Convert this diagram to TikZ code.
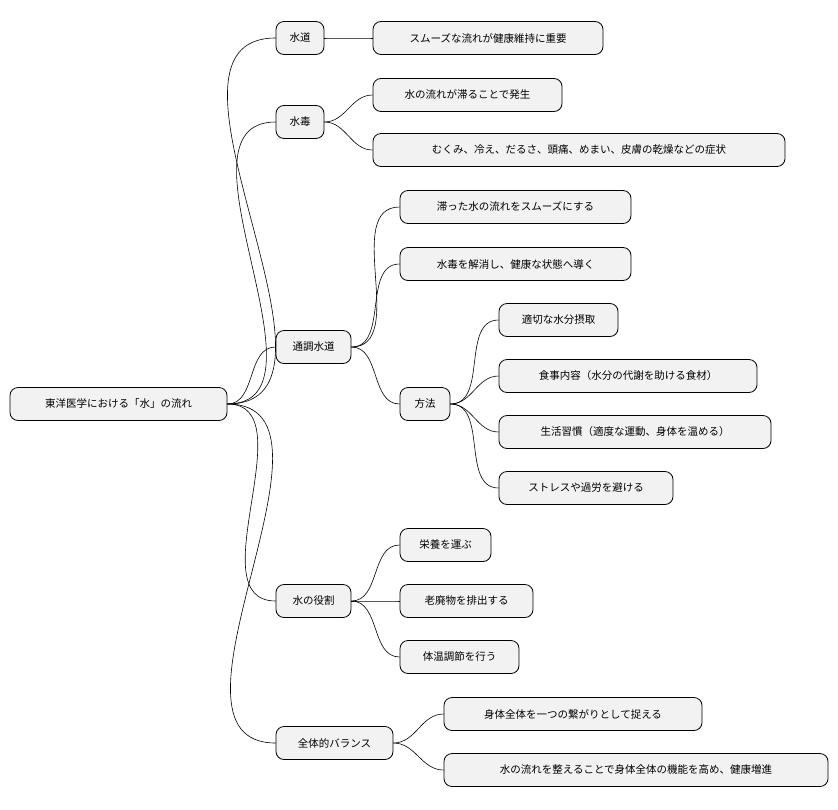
\documentclass[tikz,border=0pt]{standalone}
\usepackage{fontspec}
\newfontfamily\cjk{Noto Sans CJK JP}
\begin{document}
\begin{tikzpicture}[x=1pt,y=-1pt,
  box/.style={draw=black, line width=0.8pt, fill=black!5, rounded corners=8pt, minimum height=33pt, inner sep=0pt, font=\cjk\fontsize{10.5pt}{12pt}\selectfont},
  link/.style={draw=black, line width=0.6pt}]
\useasboundingbox (0,0) rectangle (838,809);
\newcommand\bx[5]{\node[box, minimum width=#4-#3] (#1) at ({(#3+#4)/2},#5) {#2};}
\bx{root}{東洋医学における「水」の流れ}{10}{227}{404}
\bx{a}{水道}{276}{324}{38}
\bx{a1}{スムーズな流れが健康維持に重要}{373}{603}{38}
\bx{b}{水毒}{276}{324}{122}
\bx{b1}{水の流れが滞ることで発生}{373}{562}{95}
\bx{b2}{むくみ、冷え、だるさ、頭痛、めまい、皮膚の乾燥などの症状}{373}{785}{150}
\bx{c}{通調水道}{276}{351}{347}
\bx{c1}{滞った水の流れをスムーズにする}{400}{631}{207}
\bx{c2}{水毒を解消し、健康な状態へ導く}{400}{631}{264}
\bx{c3}{方法}{400}{450}{404}
\bx{d1}{適切な水分摂取}{499}{618}{320}
\bx{d2}{食事内容（水分の代謝を助ける食材）}{499}{757}{376}
\bx{d3}{生活習慣（適度な運動、身体を温める）}{499}{771}{432}
\bx{d4}{ストレスや過労を避ける}{499}{673}{488}
\bx{e}{水の役割}{276}{351}{601}
\bx{e1}{栄養を運ぶ}{400}{491}{545}
\bx{e2}{老廃物を排出する}{400}{533}{601}
\bx{e3}{体温調節を行う}{400}{519}{657}
\bx{f}{全体的バランス}{276}{393}{743}
\bx{f1}{身体全体を一つの繋がりとして捉える}{444}{702}{714}
\bx{f2}{水の流れを整えることで身体全体の機能を高め、健康増進}{444}{828}{770}
\foreach \p/\c in {root/a,root/b,root/c,root/e,root/f,a/a1,b/b1,b/b2,c/c1,c/c2,c/c3,c3/d1,c3/d2,c3/d3,c3/d4,e/e1,e/e2,e/e3,f/f1,f/f2}
  \draw[link] (\p.east) to[out=0,in=180] (\c.west);
\end{tikzpicture}
\end{document}
